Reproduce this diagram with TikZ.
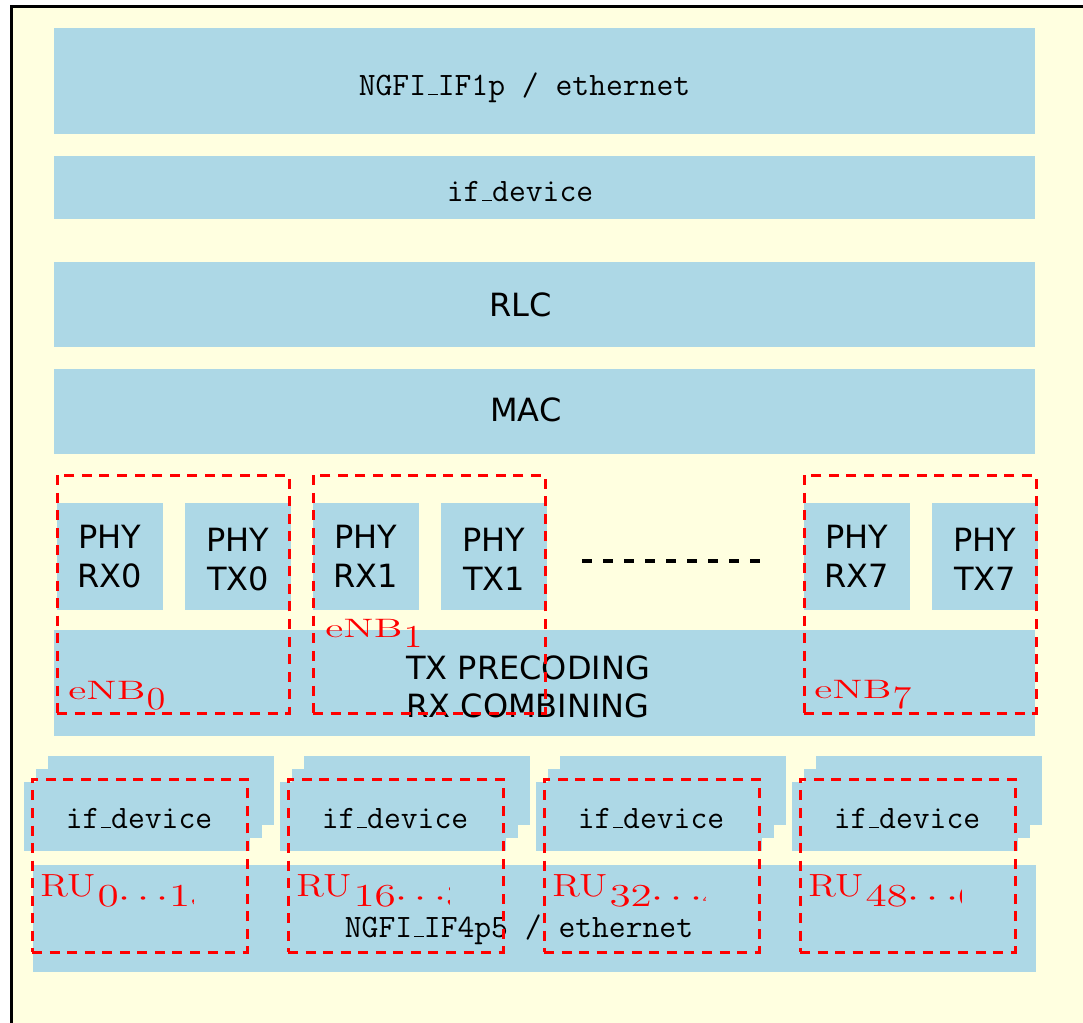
\documentclass[tikz,border=0pt]{standalone}
\usepackage{fontspec}
\usepackage{graphicx}
\setsansfont{DejaVu Sans}
\usetikzlibrary{fit}

\definecolor{boxblue}{RGB}{173,216,230}
\definecolor{paper}{RGB}{255,255,224}
% classic short underscore rule
\newcommand{\usc}{\leavevmode\kern.06em\vbox{\hrule width .3em height .045em}}

\tikzset{
  blk/.style={fill=boxblue, draw=none, inner sep=0pt, outer sep=0pt},
  monotxt/.style={font=\fontsize{14.7}{17.6}\selectfont\ttfamily, anchor=base, inner sep=0pt},
  sanstxt/.style={font=\fontsize{14.4}{17.28}\selectfont\sffamily, anchor=base, inner sep=0pt},
  phytxt/.style={font=\fontsize{14.4}{17.28}\selectfont\sffamily, align=center, inner sep=0pt},
  grp/.style={draw=red, line width=1.35pt, dash pattern=on 4.5pt off 3.4pt, fill=none},
  redlbl/.style={text=red, anchor=base west, inner sep=0pt},
}
% red group captions
\newcommand{\enblabel}[1]{\fontsize{12}{14}\selectfont\scalebox{1.55}[1]{eNB}\kern0.5pt\raisebox{-4.7pt}{\fontsize{14.4}{17.28}\selectfont\scalebox{1.2}[1]{#1}}}
\newcommand{\rulabel}[2]{\fontsize{14.4}{17.28}\selectfont\scalebox{1.2}[1]{RU}\kern1pt\raisebox{-4.5pt}{\scalebox{1.35}[1]{#1$\cdots$#2}}}

\begin{document}
\begin{tikzpicture}[x=0.45pt, y=-0.45pt]
\useasboundingbox (0,0) rectangle (1083,1023);
\clip (0,0) rectangle (1083,1023);

% outer frame
\draw[line width=1.35pt, fill=paper] (11.5,6.5) rectangle (1100,1040);

% upper layers
\node[blk, fit={(54,28)(1035,134)}] (ngfi) {};
\node[monotxt] (ngfiT) at (524.5,95) {NGFI\usc IF1p / ethernet};
\node[blk, fit={(54,156)(1035,219)}] (ifdev) {};
\node[monotxt] (ifdevT) at (520,201) {if\usc device};
\node[blk, fit={(54,262)(1035,347)}] (rlc) {};
\node[sanstxt] (rlcT) at (520.5,316.5) {RLC};
\node[blk, fit={(54,369)(1035,454)}] (mac) {};
\node[sanstxt] (macT) at (526,421.5) {MAC};

% PHY blocks
\node[blk, fit={(57,503)(163,610)}] (rx0) {};
\node[blk, fit={(185,503)(291,610)}] (tx0) {};
\node[blk, fit={(313,503)(419,610)}] (rx1) {};
\node[blk, fit={(441,503)(547,610)}] (tx1) {};
\node[blk, fit={(804,503)(910,610)}] (rx7) {};
\node[blk, fit={(932,503)(1038,610)}] (tx7) {};
\node[phytxt] (rx0T) at (rx0.center) {PHY\\RX0};
\node[phytxt, yshift=-1.35pt] (tx0T) at (tx0.center) {PHY\\TX0};
\node[phytxt] (rx1T) at (rx1.center) {PHY\\RX1};
\node[phytxt, yshift=-1.35pt] (tx1T) at (tx1.center) {PHY\\TX1};
\node[phytxt] (rx7T) at (rx7.center) {PHY\\RX7};
\node[phytxt, yshift=-1.35pt] (tx7T) at (tx7.center) {PHY\\TX7};

% ellipsis between eNB groups
\coordinate (dl) at (582,561);
\coordinate (dr) at (761,561);
\draw[line width=1.8pt, dash pattern=on 4.5pt off 4.95pt] (dl) -- (dr);

% precoding / combining layer
\node[blk, fit={(54,630)(1035,736)}] (prec) {};
\node[sanstxt] (precA) at (528,679) {TX PRECODING};
\node[sanstxt] (precB) at (528,717) {RX COMBINING};

% eNB groups
\node[grp, inner sep=0pt, fit={(57,475)(289,713)}] (enb0) {};
\node[grp, inner sep=0pt, fit={(313,475)(545,713)}] (enb1) {};
\node[grp, inner sep=0pt, fit={(804,475)(1036,713)}] (enb7) {};
\node[redlbl] (enb0L) at (68,699) {\enblabel{0}};
\node[redlbl] (enb1L) at (325,637) {\enblabel{1}};
\node[redlbl] (enb7L) at (814,698) {\enblabel{7}};

% fronthaul layer
\node[blk, fit={(33,865)(1036,972)}] (fh) {};
\node[monotxt] (fhT) at (519,937) {NGFI\usc IF4p5 / ethernet};

% radio unit groups: stacked interface devices
\foreach \i/\dx/\lo/\hi in {0/0/0/15, 1/256/16/31, 2/512/32/47, 3/768/48/63}{
  \node[blk, fit={(48+\dx,756)(274+\dx,825)}] (ifc\i) {};
  \node[blk, fit={(36+\dx,769)(262+\dx,838)}] (ifb\i) {};
  \node[blk, fit={(24+\dx,782)(250+\dx,851)}] (ifa\i) {};
  \node[monotxt] (ifaT\i) at (139+\dx,828) {if\usc device};
  \node[grp, inner sep=0pt, fit={(32+\dx,779)(247+\dx,952)}] (ru\i) {};
  \begin{scope}
    \clip (32+\dx,860) rectangle (193+\dx,930);
    \node[redlbl] (ruL\i) at (40+\dx,896) {\rulabel{\lo}{\hi}};
  \end{scope}
}
\end{tikzpicture}
\end{document}
